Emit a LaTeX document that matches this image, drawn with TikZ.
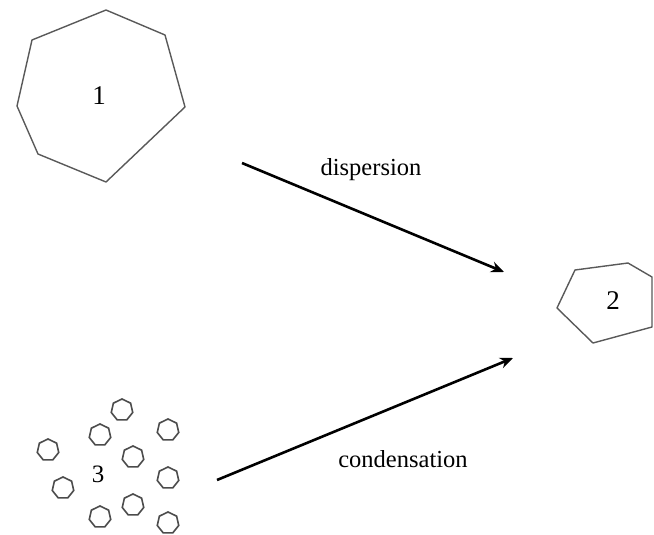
\documentclass[tikz,border=0pt]{standalone}
\usepackage{fontspec}
\setmainfont{Liberation Serif}
\usetikzlibrary{arrows.meta,shapes.geometric}
\begin{document}
\begin{tikzpicture}[x=1pt,y=-1pt,
  poly/.style={draw=black!65,line width=1.4pt,line join=round},
  dot/.style={regular polygon,regular polygon sides=7,draw=black!70,line width=1.6pt,minimum size=22pt,inner sep=0pt},
  flow/.style={line width=2.6pt,-{Stealth[length=13pt,width=11pt]}},
  lbl/.style={font=\fontsize{24.5}{26}\selectfont,inner sep=0pt},
  num/.style={font=\fontsize{27}{29}\selectfont,inner sep=0pt}]
\useasboundingbox (0,0) rectangle (654,535);
% polygon 1
\draw[poly] (106,10) -- (165,35) -- (185,107) -- (106,182) -- (38,154) -- (17,106) -- (32,40) -- cycle;
\node[num] (n1) at (99,96) {1};
% polygon 2
\draw[poly] (575,270) -- (628,263) -- (652,277) -- (652,327) -- (593,343) -- (557,308) -- cycle;
\node[num] (n2) at (613,301) {2};
% small particles
\foreach \x/\y [count=\i] in {122/410,168/430,100/435,48/450,133/457,168/478,63/488,133/505,100/517,168/523}
  \node[dot] (p\i) at (\x,\y) {};
\node[num,font=\fontsize{25}{27}\selectfont] (n3) at (98,474) {3};
% arrows
\coordinate (d1) at (242,163);
\coordinate (d2) at (504,272);
\draw[flow] (d1) -- (d2);
\node[lbl] (ld) at (371,170) {dispersion};
\coordinate (c1) at (217,480);
\coordinate (c2) at (513,358);
\draw[flow] (c1) -- (c2);
\node[lbl] (lc) at (403,459) {condensation};
\end{tikzpicture}
\end{document}
